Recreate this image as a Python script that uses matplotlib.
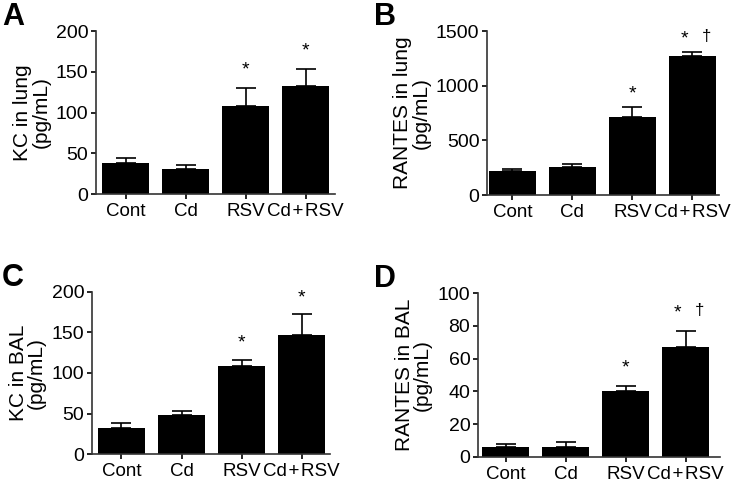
import matplotlib
matplotlib.use("Agg")
from matplotlib import pyplot as plt
import numpy as np

plt.rcParams["font.family"] = ["Liberation Sans", "DejaVu Sans"]

groups = ["Cont", "Cd", "RSV", "Cd\u200a+\u200aRSV"]

kc_lung = [38, 31, 108, 132]
kc_lung_err = [6, 5, 22, 21]
rantes_lung = [216, 259, 716, 1277]
rantes_lung_err = [19, 21, 92, 34]
kc_bal = [32, 48, 108, 147]
kc_bal_err = [6, 5, 8, 25]
rantes_bal = [6, 6, 40, 67]
rantes_bal_err = [2, 3, 3, 10]

# significance marks per bar: "" / "*" / "*†"
marks_a = ["", "", "*", "*"]
marks_b = ["", "", "*", "*†"]
marks_c = ["", "", "*", "*"]
marks_d = ["", "", "*", "*†"]

panels = [
    ("A", kc_lung, kc_lung_err, marks_a, "KC in lung\n(pg/mL)", 200, [0, 50, 100, 150, 200],
     [0.129, 0.5975, 0.321, 0.338], (-0.49, 3.49), 13, 0.003),
    ("B", rantes_lung, rantes_lung_err, marks_b, "RANTES in lung\n(pg/mL)", 1500, [0, 500, 1000, 1500],
     [0.6537, 0.5954, 0.311, 0.340], (-0.425, 3.44), 9, 0.502),
    ("C", kc_bal, kc_bal_err, marks_c, "KC in BAL\n(pg/mL)", 200, [0, 50, 100, 150, 200],
     [0.1235, 0.0575, 0.3195, 0.3373], (-0.49, 3.47), 12, 0.003),
    ("D", rantes_bal, rantes_bal_err, marks_d, "RANTES in BAL\n(pg/mL)", 100, [0, 20, 40, 60, 80, 100],
     [0.6416, 0.0525, 0.3248, 0.339], (-0.46, 3.57), 13, 0.502),
]

fig = plt.figure(figsize=(7.45, 4.82), dpi=100)

for letter, vals, errs, marks, ylabel, ymax, yticks, pos, xlim, pad, lx in panels:
    ax = fig.add_axes(pos)
    x = np.arange(len(groups))
    ax.bar(x, vals, width=0.78, color="black", zorder=2)
    ax.errorbar(x, vals, yerr=[np.zeros(len(vals)), errs], fmt="none", ecolor="black",
                elinewidth=1.2, capsize=7, capthick=1.2, zorder=1)
    for xi, v, e, m in zip(x, vals, errs, marks):
        if not m:
            continue
        if m == "*":
            ax.annotate("*", (xi, v + e), xytext=(0, pad), textcoords="offset points",
                        ha="center", va="center", fontsize=14)
        else:
            ax.annotate("*", (xi, v + e), xytext=(-6, pad), textcoords="offset points",
                        ha="center", va="center", fontsize=14)
            ax.annotate("†", (xi, v + e), xytext=(10, pad + 2), textcoords="offset points",
                        ha="center", va="center", fontsize=12)
    ax.set_ylim(0, ymax)
    ax.set_xlim(*xlim)
    ax.set_yticks(yticks)
    ax.set_xticks(x)
    ax.set_xticklabels(groups, fontsize=13.5)
    ax.tick_params(axis="y", labelsize=14, length=3.5, width=1.2, pad=2, colors="black")
    ax.tick_params(axis="x", length=3.5, width=1.2, pad=3)
    for s in ["top", "right"]:
        ax.spines[s].set_visible(False)
    for s in ["left", "bottom"]:
        ax.spines[s].set_linewidth(1.2)
        ax.spines[s].set_color("#333333")
    ax.set_ylabel(ylabel, fontsize=15, labelpad=4, linespacing=0.95)
    fig.text(lx, min(pos[1] + pos[3] + 0.06, 0.998), letter, fontsize=22, fontweight="bold",
             va="top", ha="left")

fig.savefig("out.png", dpi=100)
